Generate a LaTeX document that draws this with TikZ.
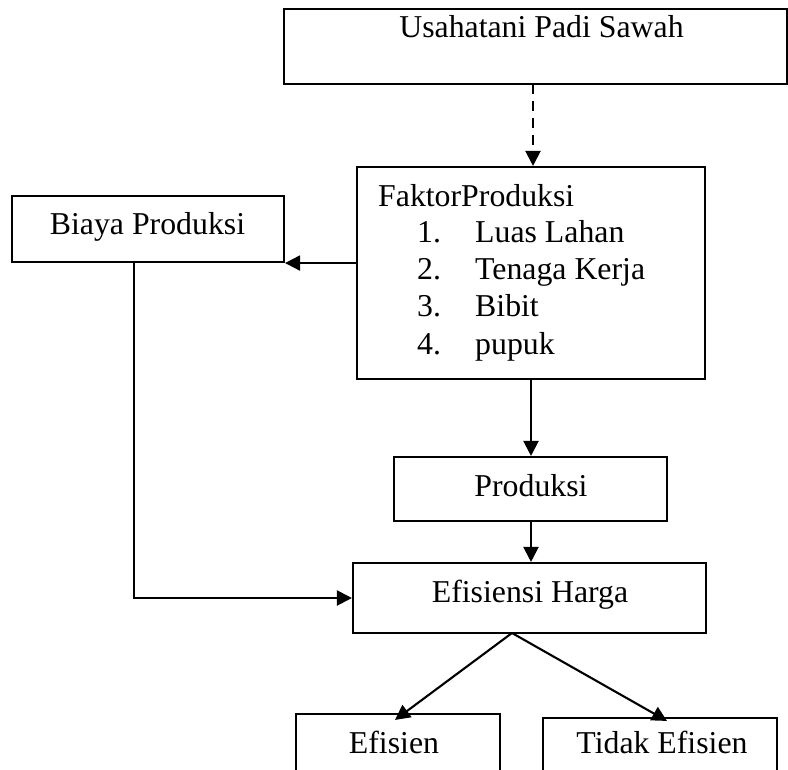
\documentclass[tikz,border=0pt]{standalone}
\usepackage{fontspec}
\setmainfont{Liberation Serif}
\usetikzlibrary{arrows.meta}
\begin{document}
\begin{tikzpicture}[x=1pt,y=-1pt,
  box/.style={draw, line width=2.1pt, rectangle, inner sep=0pt},
  txt/.style={inner sep=0pt, font=\fontsize{31.8}{37}\selectfont},
  arr/.style={line width=2.1pt, -{Triangle[length=15pt,width=15pt]}},
  dasharr/.style={arr, dash pattern=on 10pt off 7pt}]
\clip (0,0) rectangle (788,770);
\fill[white] (0,0) rectangle (788,770);
% boxes
\node[box, minimum width=503pt, minimum height=75pt] (usaha) at (535.5,46.5) {};
\node[txt, anchor=base] (usahat) at (541.5,38) {Usahatani Padi Sawah};
\node[box, minimum width=348pt, minimum height=212pt] (faktor) at (531,273) {};
\node[txt, anchor=base west] (ft) at (378,207) {FaktorProduksi};
\node[txt, anchor=base west] (n1) at (417,243) {1.};
\node[txt, anchor=base west] (i1) at (475,243) {Luas Lahan};
\node[txt, anchor=base west] (n2) at (417,280) {2.};
\node[txt, anchor=base west] (i2) at (475,280) {Tenaga Kerja};
\node[txt, anchor=base west] (n3) at (417,317) {3.};
\node[txt, anchor=base west] (i3) at (475,317) {Bibit};
\node[txt, anchor=base west] (n4) at (417,355) {4.};
\node[txt, anchor=base west] (i4) at (475,355) {pupuk};
\node[box, minimum width=272pt, minimum height=66pt] (biaya) at (148,229) {};
\node[txt, anchor=base] (biayat) at (147.5,235) {Biaya Produksi};
\node[box, minimum width=273pt, minimum height=64pt] (prod) at (530.5,489) {};
\node[txt, anchor=base] (prodt) at (531,496) {Produksi};
\node[box, minimum width=353pt, minimum height=70pt] (efh) at (529.5,598) {};
\node[txt, anchor=base] (efht) at (530,602) {Efisiensi Harga};
\node[box, minimum width=204pt, minimum height=76pt] (efs) at (398,752) {};
\node[txt, anchor=base] (efst) at (394,753) {Efisien};
\node[box, minimum width=234pt, minimum height=76pt] (tef) at (660,756) {};
\node[txt, anchor=base] (teft) at (662,753) {Tidak Efisien};
% connectors
\coordinate (d1) at (533,84);
\draw[dasharr] (d1) -- (d1 |- faktor.north);
\draw[arr] (faktor.west |- biaya.south east) -- (biaya.south east);
\draw[arr] ([xshift=-14pt]biaya.south) |- (efh.west);
\draw[arr] (faktor.south) -- (faktor.south |- prod.north);
\draw[arr] (faktor.south |- prod.south) -- (faktor.south |- efh.north);
\coordinate (split) at (512,633);
\draw[arr] (split) -- ([xshift=-3pt,yshift=-7pt]efs.north);
\draw[arr] (split) -- ([xshift=7pt,yshift=-4pt]tef.north);
\end{tikzpicture}
\end{document}
